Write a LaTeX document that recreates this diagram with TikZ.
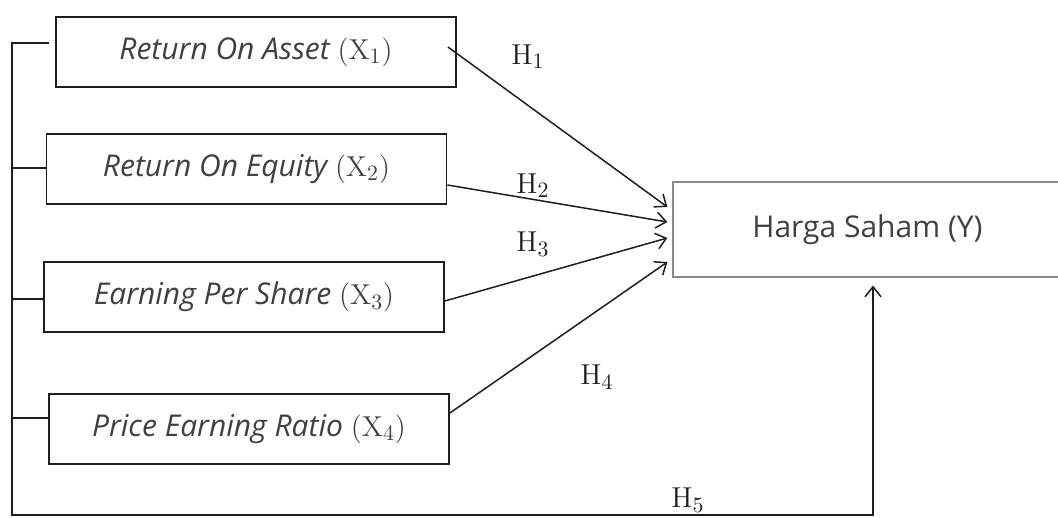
\documentclass[tikz,border=0pt]{standalone}
\usepackage[no-math]{fontspec}
\setmainfont{Open Sans}
\usetikzlibrary{arrows.meta}
\definecolor{ink}{HTML}{1E1E1E}
\definecolor{frameGray}{HTML}{8A8A8A}

\begin{document}
\begin{tikzpicture}[x=0.5pt,y=-0.5pt,>={Straight Barb[length=5pt,width=8pt]},
  var/.style={draw=ink,line width=0.9pt,minimum width=200pt,minimum height=35pt,inner sep=0pt,font=\fontsize{15}{18}\selectfont\itshape,text=ink!85},
  dep/.style={draw=frameGray,line width=0.6pt,minimum width=194.5pt,minimum height=47.5pt,font=\fontsize{15}{18}\selectfont,text=ink!85},
  flow/.style={->,line width=0.75pt,draw=ink},
  link/.style={line width=0.75pt,draw=ink},
  hyp/.style={font=\fontsize{15}{18}\selectfont,text=ink}]
  \useasboundingbox (0,0) rectangle (1058,518);

  \node[var] (roa) at (256,52) {Return On Asset $(\mathrm{X}_1)$};
  \node[var] (roe) at (246.5,169) {Return On Equity $(\mathrm{X}_2)$};
  \node[var] (eps) at (244,297) {Earning Per Share $(\mathrm{X}_3)$};
  \node[var] (per) at (249,429) {Price Earning Ratio $(\mathrm{X}_4)$};
  \node[dep] (hs) at (867.5,229.5) {Harga Saham (Y)};

  \draw[flow] ([xshift=-4.5pt,yshift=2.5pt]roa.east) -- ([xshift=-2.5pt,yshift=11.25pt]hs.west);
  \draw[flow] ([yshift=-8pt]roe.east) -- ([xshift=-2.5pt,yshift=3.75pt]hs.west);
  \draw[flow] ([yshift=-2pt]eps.east) -- ([xshift=-2.5pt,yshift=-4.25pt]hs.west);
  \draw[flow] ([yshift=8pt]per.east) -- ([xshift=-2.5pt,yshift=-16.25pt]hs.west);

  \coordinate (corner) at (12,515);
  \draw[flow] ([xshift=-3pt,yshift=4.5pt]roa.west) -| (corner) -| ([xshift=2.75pt,yshift=-4pt]hs.south);
  \draw[link] ([yshift=0.5pt]roe.west) -- ([yshift=0.5pt]roe.west -| corner);
  \draw[link] ([yshift=-1pt]eps.west) -- ([yshift=-1pt]eps.west -| corner);
  \draw[link] ([yshift=5.5pt]per.west) -- ([yshift=5.5pt]per.west -| corner);

  \node[hyp] (h1) at (528,57) {$\mathrm{H}_1$};
  \node[hyp] (h2) at (533,186) {$\mathrm{H}_2$};
  \node[hyp] (h3) at (533,244) {$\mathrm{H}_3$};
  \node[hyp] (h4) at (597,377) {$\mathrm{H}_4$};
  \node[hyp] (h5) at (688,500) {$\mathrm{H}_5$};
\end{tikzpicture}
\end{document}
